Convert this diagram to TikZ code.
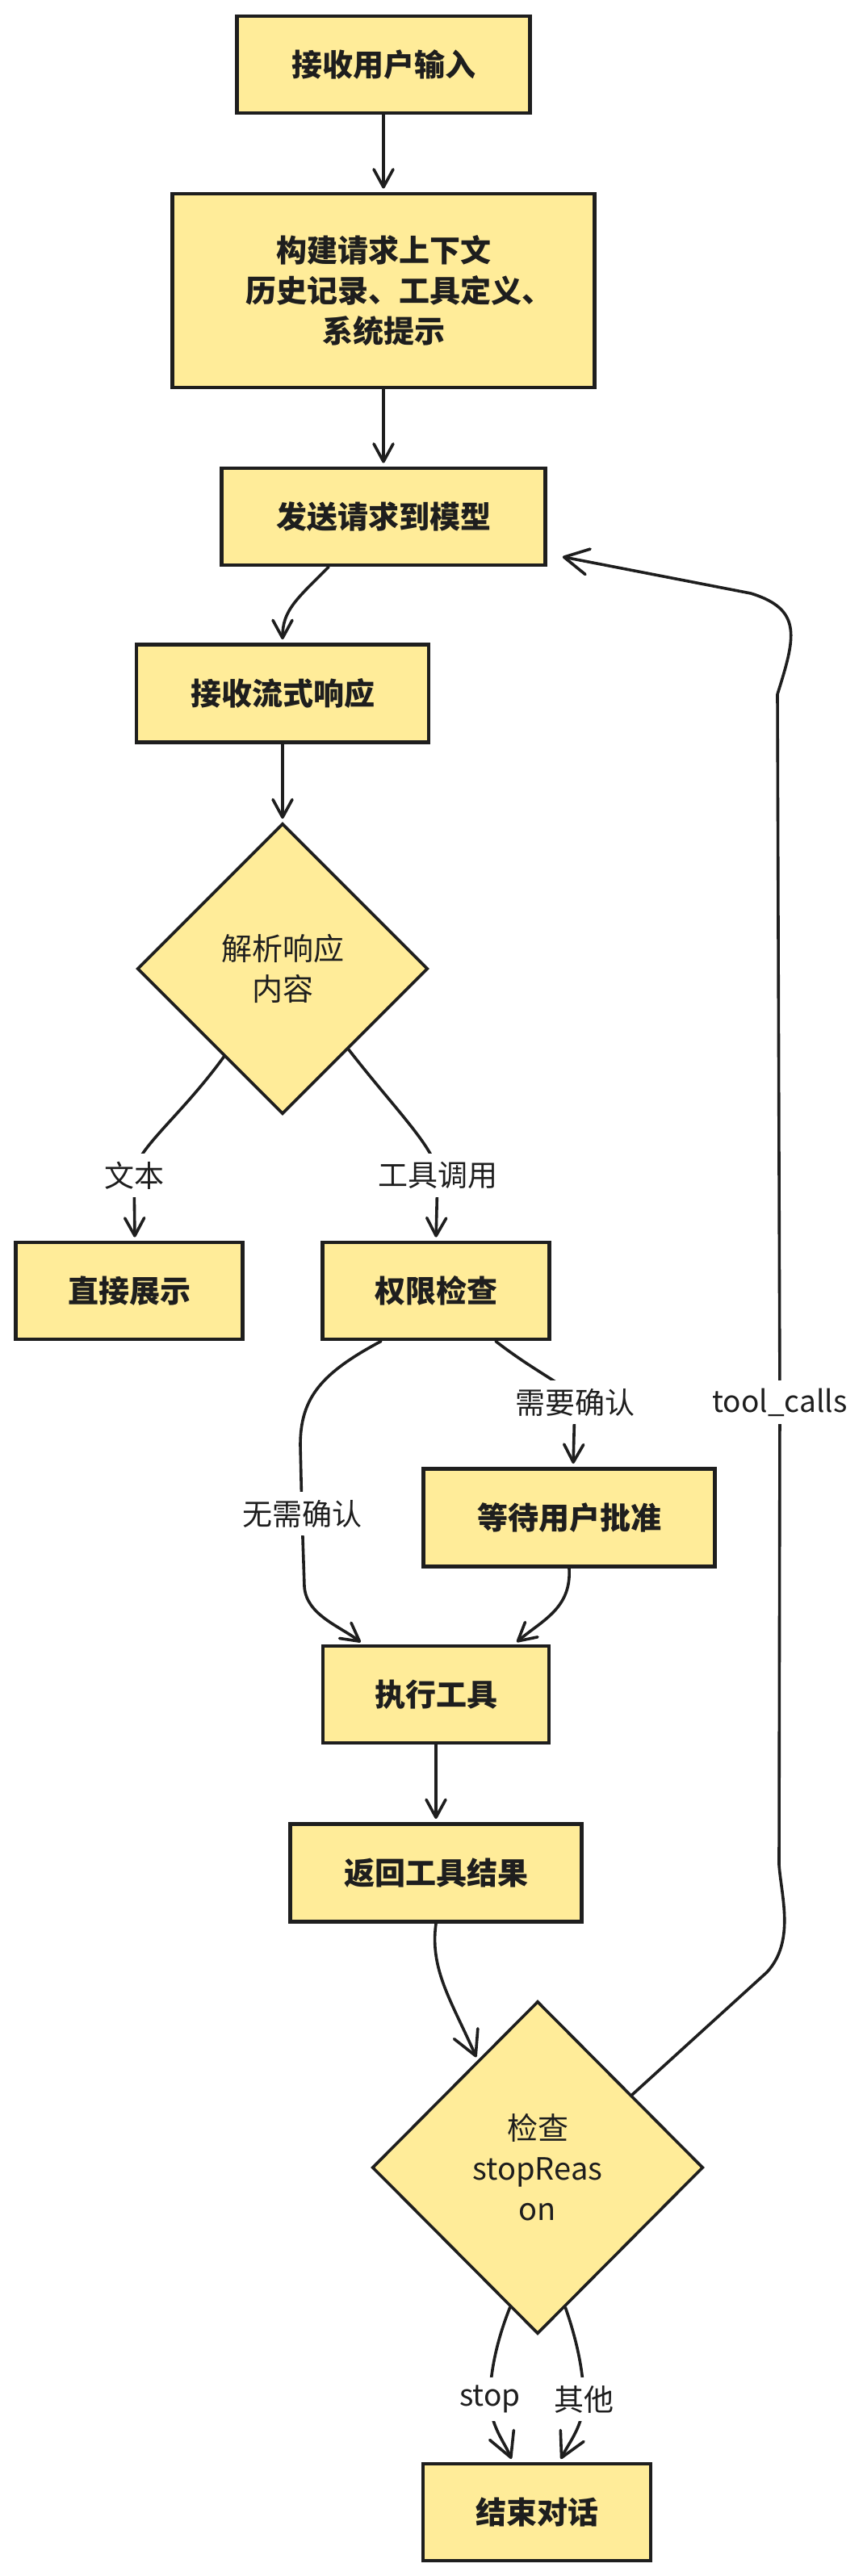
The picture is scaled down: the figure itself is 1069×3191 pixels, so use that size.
\documentclass[tikz,border=0pt]{standalone}
\usepackage{fontspec}
\setmainfont{Noto Sans CJK SC}
\usetikzlibrary{shapes.geometric,arrows.meta,calc}
\definecolor{boxfill}{HTML}{FFEC99}
\definecolor{ink}{HTML}{1E1E1E}
\begin{document}
\begin{tikzpicture}[x=0.5pt,y=-0.5pt,
  box/.style={draw=ink, fill=boxfill, line width=2.4pt, rectangle, inner sep=0pt, align=center, text=ink, font=\fontsize{19pt}{25pt}\selectfont\bfseries},
  dia/.style={draw=ink, fill=boxfill, line width=1.8pt, diamond, aspect=1, inner sep=0pt, align=center, text=ink, font=\fontsize{19pt}{25pt}\selectfont},
  conn/.style={draw=ink, line width=1.8pt, line cap=round, line join=round, shorten >=2pt, -{Straight Barb[length=11pt,width=12pt,round]}},
  bigtip/.style={-{Straight Barb[length=15pt,width=16pt,round]}},
  lbl/.style={fill=white, inner xsep=3pt, inner ysep=5pt, text=ink, font=\fontsize{18.5pt}{22pt}\selectfont}
]
\fill[white] (0,0) rectangle (1069,3191);
\useasboundingbox (0,0) rectangle (1069,3191);

% nodes
\node[box, minimum width=181.5pt, minimum height=60pt] (b1) at (475,80) {接收用户输入};
\node[box, minimum width=261.5pt, minimum height=120pt] (b2) at (475,360) {构建请求上下文\\\hspace*{1em}历史记录、工具定义、\\系统提示};
\node[box, minimum width=200.5pt, minimum height=60pt] (b3) at (475,640) {发送请求到模型};
\node[box, minimum width=181pt, minimum height=60.5pt] (b4) at (350,859) {接收流式响应};
\node[dia, minimum width=180pt, minimum height=180pt] (d1) at (350,1200) {解析响应\\内容};
\node[box, minimum width=140.5pt, minimum height=60pt] (b5) at (160,1599) {直接展示};
\node[box, minimum width=140.5pt, minimum height=60pt] (b6) at (540,1599) {权限检查};
\node[box, minimum width=180.5pt, minimum height=60.5pt] (b7) at (705,1880) {等待用户批准};
\node[box, minimum width=140pt, minimum height=60pt] (b8) at (540,2099) {执行工具};
\node[box, minimum width=180.5pt, minimum height=60.5pt] (b9) at (540,2320) {返回工具结果};
\node[dia, minimum width=205pt, minimum height=206pt] (d2) at (666,2685) {检查\\stopReas\\on};
\node[box, minimum width=141pt, minimum height=60pt] (b10) at (665,3112) {结束对话};

% connectors
\draw[conn] (b1.south) -- (b2.north);
\draw[conn] (b2.south) -- (b3.north);
\draw[conn] ($(b3.south)+(-68,0)$) .. controls +(-40,40) and +(0,-40) .. (b4.north);
\draw[conn] (b4.south) -- (d1.north);

\draw[conn] ($(d1.west)!0.6!(d1.south)$) .. controls (222,1385) and (166,1425) .. (166,1456) node[lbl]{文本} -- ($(b5.north)+(7,0)$);
\draw[conn] ($(d1.east)!0.55!(d1.south)$) .. controls (490,1375) and (542,1425) .. (542,1456) node[lbl]{工具调用} -- (b6.north);

\draw[conn] ($(b6.south)+(74,0)$) .. controls (670,1705) and (712,1720) .. (712,1737) node[lbl]{需要确认} -- ($(b7.north)+(5,0)$);
\draw[conn] ($(b6.south)+(-68,0)$) .. controls (400,1700) and (372,1730) .. (372,1790) -- (374,1875) node[lbl]{无需确认} -- (377,1965) .. controls (379,2000) and (420,2014) .. ($(b8.north)+(-90,0)$);
\draw[conn] (b7.south) .. controls (708,1992) and (672,2007) .. ($(b8.north)+(97,0)$);

\draw[conn] (b8.south) -- (b9.north);
\draw[conn, bigtip] (b9.south) .. controls (532,2440) and (560,2480) .. ($(d2.north)!0.36!(d2.west)$);

\draw[conn, bigtip] ($(d2.north)!0.566!(d2.east)$) -- (950,2443) .. controls (985,2405) and (968,2350) .. (965,2310) -- (966,1737) node[lbl]{tool\_calls} -- (963,860) .. controls (985,790) and (995,755) .. (930,735) -- ($(b3.east)+(15,49)$);

\draw[conn, bigtip] ($(d2.south)!0.166!(d2.west)$) .. controls (615,2900) and (607,2940) .. (607,2972) node[lbl]{stop} .. controls (607,3005) and (625,3025) .. ($(b10.north)+(-30,0)$);
\draw[conn, bigtip] ($(d2.south)!0.166!(d2.east)$) .. controls (715,2900) and (723,2940) .. (723,2972) node[lbl]{其他} .. controls (723,3005) and (705,3025) .. ($(b10.north)+(28,0)$);
\end{tikzpicture}
\end{document}
